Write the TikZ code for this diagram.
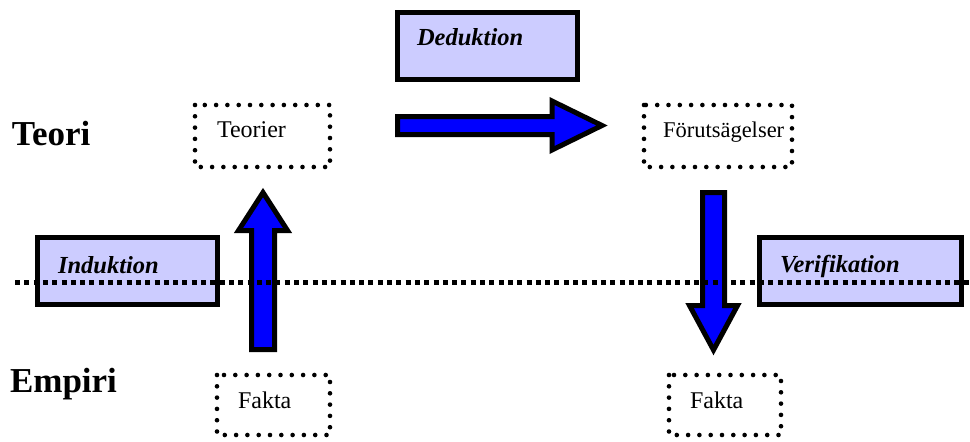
\documentclass[tikz,border=0pt]{standalone}
\usepackage{fontspec}
\setmainfont{Liberation Serif}
\begin{document}
\begin{tikzpicture}[x=1pt,y=-1pt,
  every node/.style={inner sep=0pt,outer sep=0pt},
  dotbox/.style={draw,line width=4.6pt,line cap=round,dash pattern=on 0pt off 11.3pt},
  labelbox/.style={draw,line width=5pt,fill=boxfill,line join=miter},
  blockarrow/.style={draw,line width=5pt,fill=blue,line join=miter,miter limit=10},
  level/.style={font=\fontsize{35}{40}\selectfont\bfseries},
  process/.style={font=\fontsize{24.5}{28}\selectfont\bfseries\itshape},
  term/.style={font=\fontsize{24}{28}\selectfont},
]
\definecolor{boxfill}{HTML}{CCCCFF}
\useasboundingbox (0,0) rectangle (970,442);

% level labels
\node[level,anchor=base west] (teori) at (12,145) {Teori};
\node[level,anchor=base west] (empiri) at (10,392) {Empiri};

% dotted concept boxes
\draw[dotbox] (195,105) rectangle (330,167);
\node[term,anchor=base west] (teorier) at (217,137) {Teorier};

\draw[dotbox] (644,105) rectangle (792,167);
\node[term,anchor=base west,font=\fontsize{22.5}{26}\selectfont] (forutsag) at (663,137) {Förutsägelser};

\draw[dotbox] (217,375) rectangle (330,435);
\node[term,anchor=base west] (fakta1) at (238,408) {Fakta};

\draw[dotbox] (669,375) rectangle (781,435);
\node[term,anchor=base west] (fakta2) at (690,408) {Fakta};

% process boxes
\draw[labelbox] (397.5,12.5) rectangle (577.5,79.5);
\node[process,anchor=base west] (deduktion) at (417,45) {Deduktion};

\draw[labelbox] (37.5,237.5) rectangle (217.5,304.5);
\node[process,anchor=base west] (induktion) at (58,273) {Induktion};

\draw[labelbox] (759.5,237.5) rectangle (961.5,304.5);
\node[process,anchor=base west] (verifikation) at (780,272) {Verifikation};

% block arrows
\draw[blockarrow] (397.5,116.5) -- (552,116.5) -- (552,101) -- (602,125.5)
  -- (552,150) -- (552,134.5) -- (397.5,134.5) -- cycle;
\draw[blockarrow] (251.5,349.5) -- (251.5,230.5) -- (238.5,230.5) -- (263,192.5)
  -- (287.5,230.5) -- (274.5,230.5) -- (274.5,349.5) -- cycle;
\draw[blockarrow] (702.5,192.5) -- (724.5,192.5) -- (724.5,305.5) -- (737.5,305.5)
  -- (713.5,350) -- (689.5,305.5) -- (702.5,305.5) -- cycle;

% boundary between theory and empirics
\coordinate (lineL) at (15,282);
\coordinate (lineR) at (970,282);
\draw[line width=5pt,dash pattern=on 5pt off 4.3pt] (lineL) -- (lineR);
\end{tikzpicture}
\end{document}
